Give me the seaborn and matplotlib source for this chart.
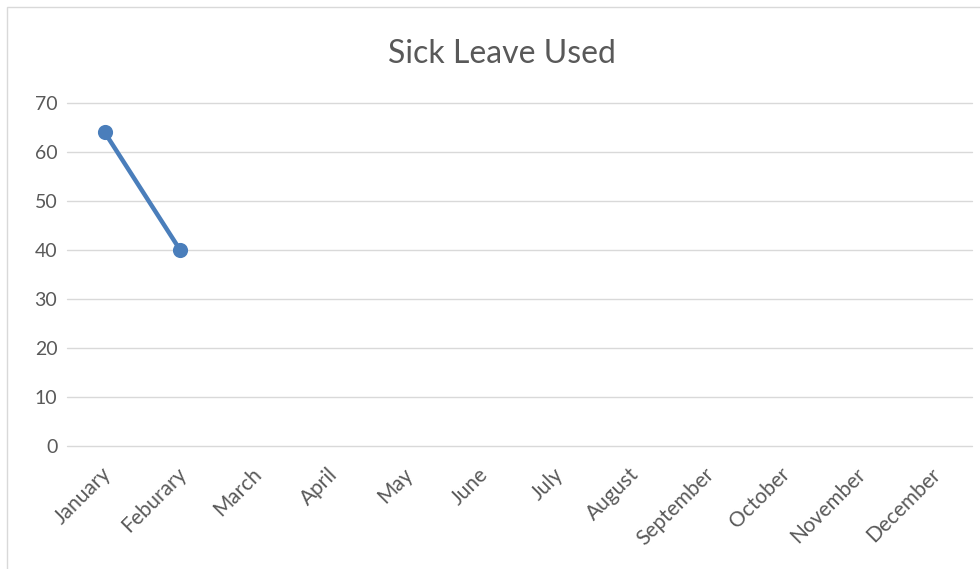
import numpy as np
import pandas as pd
import matplotlib
matplotlib.use("Agg")
import matplotlib.pyplot as plt
import matplotlib.patches as patches
import matplotlib.transforms as mtransforms
import seaborn as sns

# data
months = ["January", "Feburary", "March", "April", "May", "June", "July",
          "August", "September", "October", "November", "December"]
sick_leave = [64, 40]   # only the first two months are filled in
y_ticks = [0, 10, 20, 30, 40, 50, 60, 70]

sns.set_theme(style="white")
plt.rcParams["font.family"] = ["Lato", "DejaVu Sans"]

grey_text = "#595959"
grid_col = "#d9d9d9"
line_col = "#4a7ebb"

fig = plt.figure(figsize=(9.8, 5.69), dpi=100)
ax = fig.add_axes([67 / 980, 1 - 446 / 569, (972 - 67) / 980, (446 - 103) / 569])

df = pd.DataFrame({"month": months[:len(sick_leave)], "days": sick_leave})
sns.pointplot(data=df, x="month", y="days", order=months, color=line_col,
              errorbar=None, markers="o", linewidth=3.2, markersize=8.5, ax=ax)

ax.set_xlim(-0.5, len(months) - 0.5)
ax.set_ylim(0, 70)
ax.set_yticks(y_ticks)
ax.yaxis.grid(True, color=grid_col, linewidth=1)
for gl in ax.get_ygridlines():
    gl.set_clip_on(False)
ax.set_axisbelow(True)
for s in ax.spines.values():
    s.set_visible(False)
ax.tick_params(axis="both", length=0, colors=grey_text)
ax.tick_params(axis="y", pad=7, labelsize=14)
ax.tick_params(axis="x", pad=13, labelsize=15)
ax.set_xlabel("")
ax.set_ylabel("")
shift = mtransforms.ScaledTranslation(-4 / 100, 0, fig.dpi_scale_trans)
for lab in ax.get_xticklabels():
    lab.set_rotation(45)
    lab.set_ha("right")
    lab.set_rotation_mode("anchor")
    lab.set_transform(lab.get_transform() + shift)

fig.text(502 / 980, 1 - 54 / 569, "Sick Leave Used", ha="center", va="center",
         fontsize=23, color=grey_text)

# chart border
fig.patches.append(patches.Rectangle((7 / 980, -0.1), 1.2, 1 - 7 / 569 + 0.1,
                                     transform=fig.transFigure, fill=False,
                                     edgecolor=grid_col, linewidth=1))

fig.savefig("out.png", dpi=100)
